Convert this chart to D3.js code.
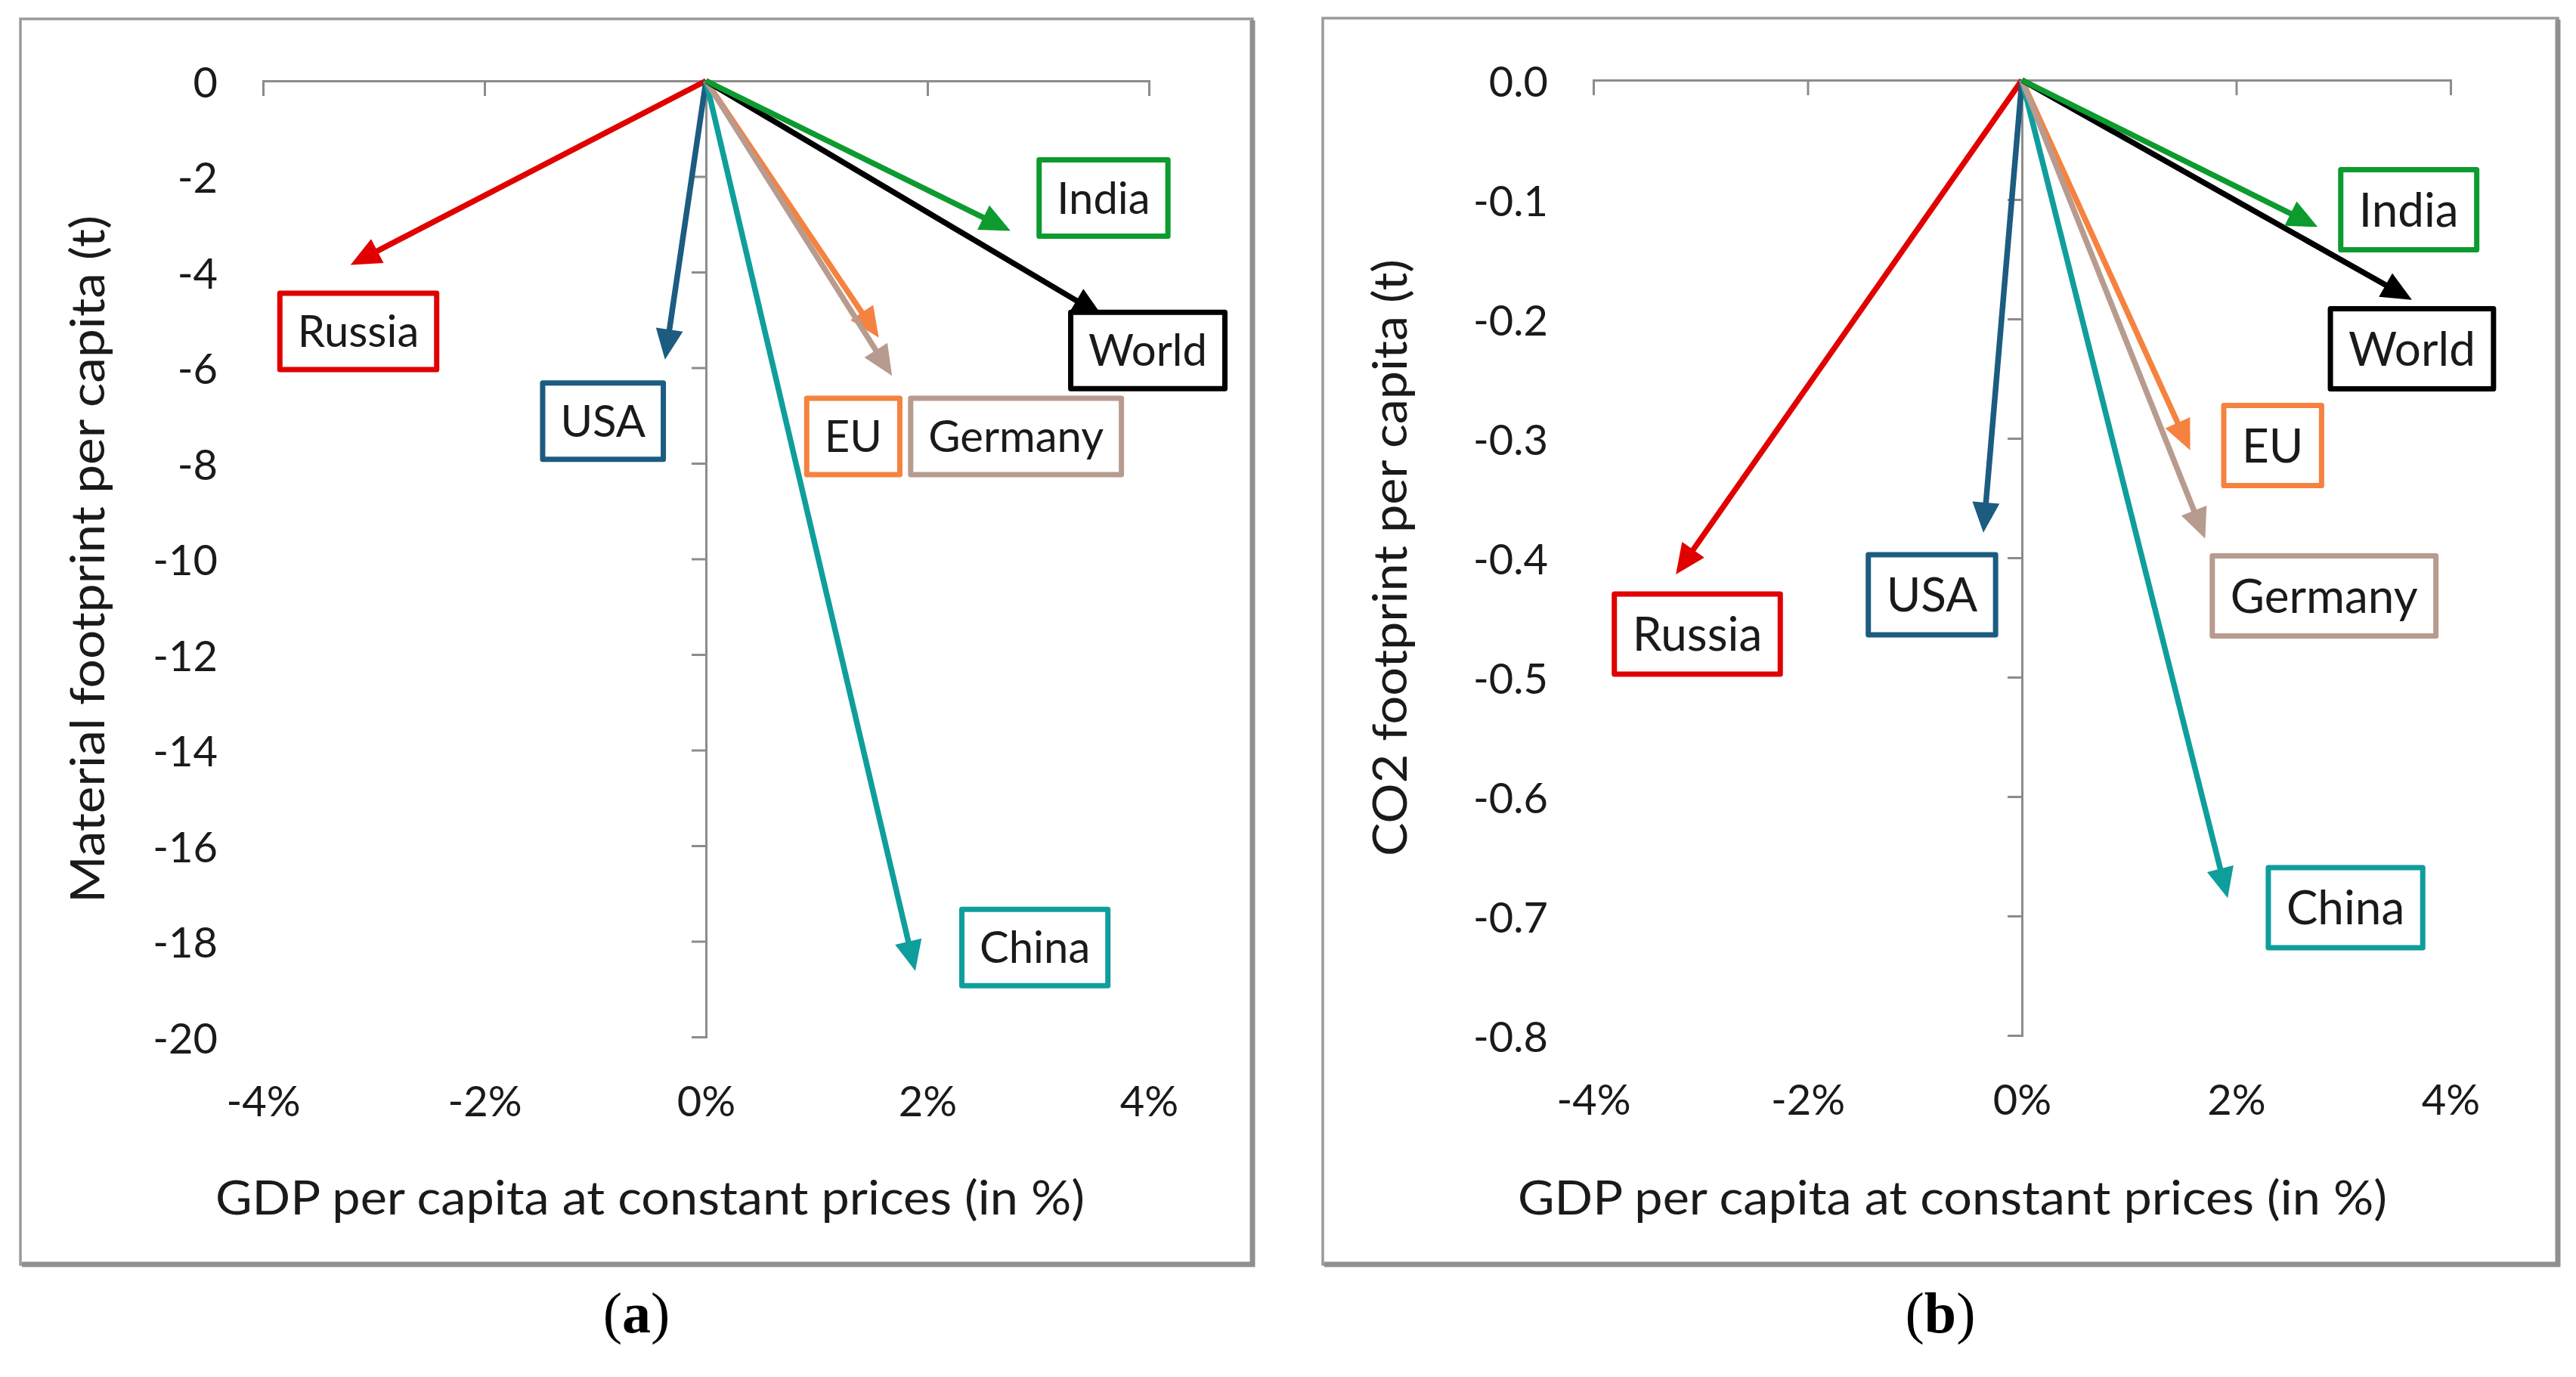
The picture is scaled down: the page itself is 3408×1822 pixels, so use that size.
<!DOCTYPE html>
<html>
<head>
<meta charset="utf-8">
<script src="https://cdn.jsdelivr.net/npm/d3@7"></script>
<style>
  html, body { margin: 0; padding: 0; background: #ffffff; }
  svg { display: block; }
  .tick text { font-family: Lato, "Open Sans", sans-serif; fill: #1a1a1a; }
</style>
</head>
<body>
<svg id="chart" width="3408" height="1822"></svg>
<script>
// data
var countries = ["Russia", "USA", "China", "EU", "Germany", "World", "India"];
var gdpA = [-3.21, -0.37, 1.89, 1.56, 1.68, 3.58, 2.75];
var materialA = [-3.85, -5.83, -18.62, -5.37, -6.17, -4.92, -3.14];
var gdpB = [-3.23, -0.36, 1.92, 1.57, 1.71, 3.64, 2.76];
var co2B = [-0.414, -0.379, -0.685, -0.310, -0.384, -0.184, -0.123];

var xTicks = [-4, -2, 0, 2, 4];
var yTicksA = [0, -2, -4, -6, -8, -10, -12, -14, -16, -18, -20];
var yTicksB = [0, -0.1, -0.2, -0.3, -0.4, -0.5, -0.6, -0.7, -0.8];

// where the name boxes sit (centre, in data units)
var labelXA = [-3.14, -0.93, 2.97, 1.33, 2.80, 3.99, 3.59];
var labelYA = [-5.24, -7.12, -18.13, -7.44, -7.44, -5.64, -2.45];
var labelXB = [-3.03, -0.84, 3.02, 2.34, 2.82, 3.64, 3.61];
var labelYB = [-0.464, -0.431, -0.693, -0.306, -0.432, -0.225, -0.1085];

var colours = {
  "Russia": "#e00000",
  "USA": "#1c5c80",
  "China": "#0f9e9c",
  "EU": "#f5823f",
  "Germany": "#b89b8f",
  "World": "#000000",
  "India": "#0d9a2f"
};

var FONT = 'Lato, "Open Sans", sans-serif';
var svg = d3.select("#chart");

function drawPanel(p){
  var g = svg.append("g");
  var x = d3.scaleLinear().domain([-4, 4]).range(p.xr);
  var y = d3.scaleLinear().domain([p.yMin, 0]).range([p.yr[1], p.yr[0]]);

  // frame
  var b = p.box;
  g.append("rect")
    .attr("x", b[0]).attr("y", b[1])
    .attr("width", b[2]-b[0]).attr("height", b[3]-b[1])
    .attr("fill", "#fff").attr("stroke", "#9a9a9a").attr("stroke-width", 3.5);
  g.append("path")
    .attr("d", "M" + (b[2]) + "," + (b[1]+2) + "V" + (b[3]) + "H" + (b[0]+2))
    .attr("fill", "none").attr("stroke", "#8f8f8f").attr("stroke-width", 7);

  // axis lines through zero
  var xAx = g.append("g")
    .attr("transform", "translate(0," + y(0) + ")")
    .call(d3.axisBottom(x).tickValues(xTicks).tickSize(20).tickFormat("").tickSizeOuter(20));
  var yAx = g.append("g")
    .attr("transform", "translate(" + x(0) + ",0)")
    .call(d3.axisLeft(y).tickValues(p.yTicks).tickSize(19).tickFormat("").tickSizeOuter(19));
  [xAx, yAx].forEach(function(a){
    a.selectAll("path.domain").attr("stroke", "#8c8c8c").attr("stroke-width", 3);
    a.selectAll(".tick line").attr("stroke", "#8c8c8c").attr("stroke-width", 3);
  });

  // tick labels at the low ends
  var xLab = g.append("g")
    .attr("transform", "translate(0," + p.yr[1] + ")")
    .call(d3.axisBottom(x).tickValues(xTicks).tickSize(0).tickPadding(65)
      .tickFormat(function(v){ return v + "%"; }));
  var yLab = g.append("g")
    .attr("transform", "translate(" + p.xr[0] + ",0)")
    .call(d3.axisLeft(y).tickValues(p.yTicks).tickSize(0).tickPadding(60)
      .tickFormat(p.yFmt));
  [xLab, yLab].forEach(function(a){
    a.select("path.domain").remove();
    a.selectAll("text").attr("font-size", 56).attr("font-family", FONT).attr("fill", "#1a1a1a");
  });
  yLab.selectAll("text").attr("dy", "0.38em");

  // titles
  g.append("text")
    .attr("x", p.xTitleX).attr("y", 1607)
    .attr("text-anchor", "middle")
    .attr("font-family", FONT).attr("font-size", 61).attr("fill", "#1a1a1a")
    .attr("textLength", 1150).attr("lengthAdjust", "spacingAndGlyphs")
    .text("GDP per capita at constant prices (in %)");
  g.append("text")
    .attr("transform", "translate(" + p.yTitleX + "," + p.yTitleY + ") rotate(-90)")
    .attr("text-anchor", "middle")
    .attr("font-family", FONT).attr("font-size", 61).attr("fill", "#1a1a1a")
    .attr("textLength", p.yTitleLen).attr("lengthAdjust", "spacingAndGlyphs")
    .text(p.yTitle);

  // arrows
  var arrows = g.append("g");
  var headLen = 40, headHalf = 18;
  p.xs.forEach(function(xv, i){
    var c = colours[countries[i]];
    var x0 = x(0), y0 = y(0), x1 = x(xv), y1 = y(p.ys[i]);
    var dx = x1 - x0, dy = y1 - y0, len = Math.sqrt(dx*dx + dy*dy);
    var ux = dx/len, uy = dy/len;
    var bx = x1 - ux*headLen, by = y1 - uy*headLen;
    var ex = x1 - ux*headLen*0.8, ey = y1 - uy*headLen*0.8;
    arrows.append("path")
      .attr("d", d3.line()([[x0, y0], [ex, ey]]))
      .attr("stroke", c).attr("stroke-width", 7.5).attr("fill", "none");
    arrows.append("path")
      .attr("d", d3.line()([[x1, y1], [bx - uy*headHalf, by + ux*headHalf], [bx + uy*headHalf, by - ux*headHalf]]) + "Z")
      .attr("fill", c).attr("stroke", "none");
  });

  // name boxes
  var labels = g.append("g");
  countries.forEach(function(name, i){
    var cx = x(p.lx[i]), cy = y(p.ly[i]);
    var lg = labels.append("g");
    var r = lg.append("rect");
    var t = lg.append("text")
      .attr("x", cx).attr("y", cy + 0.358*p.labelSize)
      .attr("text-anchor", "middle")
      .attr("font-family", FONT).attr("font-size", p.labelSize).attr("fill", "#1a1a1a")
      .text(name);
    var w = t.node().getComputedTextLength() + p.pad;
    r.attr("x", cx - w/2).attr("y", cy - p.boxH/2)
      .attr("width", w).attr("height", p.boxH)
      .attr("fill", "#fff").attr("stroke", colours[name]).attr("stroke-width", 7)
      .attr("stroke-linejoin", "round");
  });

  // caption
  var cap = g.append("text")
    .attr("x", p.captionX).attr("y", 1763)
    .attr("text-anchor", "middle")
    .attr("font-family", '"Liberation Serif", "DejaVu Serif", serif')
    .attr("font-size", 76).attr("fill", "#000");
  cap.append("tspan").text("(");
  cap.append("tspan").attr("font-weight", "bold").text(p.caption);
  cap.append("tspan").text(")");
}

drawPanel({
  box: [27, 25, 1657, 1673],
  xr: [348, 1520], yr: [107, 1372], yMin: -20,
  yTicks: yTicksA, yFmt: function(v){ return String(v); },
  yTitle: "Material footprint per capita (t)", yTitleX: 138, yTitleY: 740, yTitleLen: 910,
  xTitleX: 860,
  xs: gdpA, ys: materialA, lx: labelXA, ly: labelYA,
  labelSize: 58, pad: 47, boxH: 101,
  caption: "a", captionX: 842
});

drawPanel({
  box: [1750, 24, 3384, 1673],
  xr: [2108, 3242], yr: [106, 1370], yMin: -0.8,
  yTicks: yTicksB, yFmt: function(v){ return v.toFixed(1); },
  yTitle: "CO2 footprint per capita (t)", yTitleX: 1861, yTitleY: 738, yTitleLen: 790,
  xTitleX: 2583,
  xs: gdpB, ys: co2B, lx: labelXB, ly: labelYB,
  labelSize: 62, pad: 48, boxH: 106,
  caption: "b", captionX: 2567
});
</script>
</body>
</html>
